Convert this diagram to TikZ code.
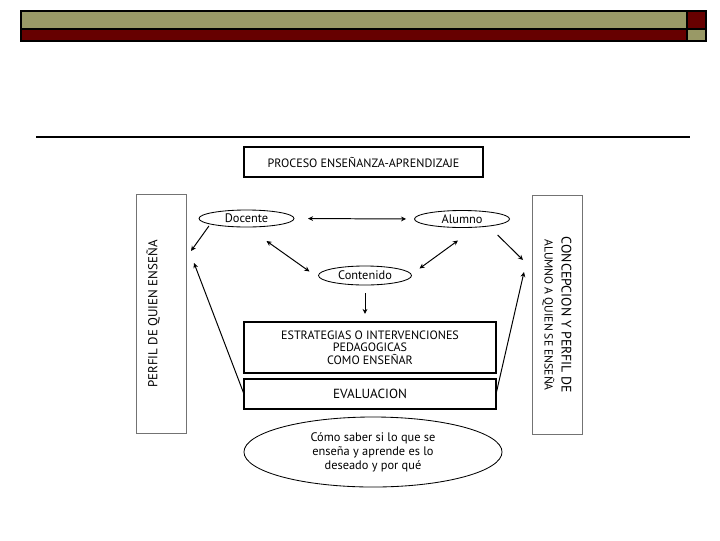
\documentclass[tikz,border=0pt]{standalone}
\usepackage{fontspec}
\setmainfont{PT Sans}
\usetikzlibrary{positioning, arrows.meta, shapes.geometric, calc}
\definecolor{olivebar}{RGB}{153,153,102}
\definecolor{maroonbar}{RGB}{102,0,0}

\begin{document}
\begin{tikzpicture}[
    x=0.025cm, y=-0.025cm,
    band/.style={draw=black, line width=1.2pt},
    titlebox/.style={
      rectangle, draw=black, line width=1.3pt, inner sep=0pt, outer sep=0pt,
      minimum width=5.975cm, minimum height=0.75cm,
      font=\fontsize{8.6}{9}\selectfont,
    },
    actor/.style={
      ellipse, draw=black, line width=0.6pt, inner sep=0pt, outer sep=0pt,
      minimum width=2.375cm, minimum height=0.425cm,
      font=\fontsize{8.8}{9}\selectfont,
    },
    sidebox/.style={
      rectangle, draw=black!55, line width=0.7pt, inner sep=0pt, outer sep=0pt,
      minimum width=1.25cm, minimum height=5.95cm,
    },
    stage/.style={
      rectangle, draw=black, line width=0.8pt, inner sep=0pt, outer sep=0pt,
      minimum width=6.3cm, align=center,
      font=\fontsize{8.6}{8.9}\selectfont,
    },
    sidetext/.style={align=center, inner sep=0pt},
    arrow/.style={-{Stealth[length=3.6pt, width=3.4pt]}, line width=0.7pt},
    both/.style={{Stealth[length=3.6pt, width=3.4pt]}-{Stealth[length=3.6pt, width=3.4pt]}, line width=0.7pt},
]
\useasboundingbox (0,0) rectangle (720,540);

% header band
\fill[olivebar]  (21,11) rectangle (687,29);
\fill[maroonbar] (687,11) rectangle (706,29);
\fill[maroonbar] (21,29) rectangle (687,41);
\fill[olivebar]  (687,29) rectangle (706,41);
\draw[band] (21,11) rectangle (706,41);
\draw[band] (21,29) -- (706,29);
\draw[band] (687,11) -- (687,41);

\draw[line width=1.4pt] (36,137) -- (690,137);

\node[titlebox] (proc) at (363.5,162) {PROCESO ENSEÑANZA-APRENDIZAJE};

\node[actor] (doc) at (246.5,218.5) {Docente};
\node[actor] (alu) at (462,219)     {Alumno};
\node[actor, minimum width=2.325cm, minimum height=0.475cm] (con) at (365,275.5) {Contenido};

\node[sidebox] (perf) at (161.5,314) {};
\node[sidebox] (conc) at (557,315)   {};
\node[sidetext, rotate=90, font=\fontsize{9.2}{10}\selectfont]
    (perftxt) at ([shift={(-8.5,0)}]perf.center) {PERFIL DE QUIEN ENSEÑA};
\node[sidetext, rotate=-90] (conctxt) at (conc.center)
    {\fontsize{9.8}{10.6}\selectfont CONCEPCION Y PERFIL DE\\
     \fontsize{8.3}{10.6}\selectfont ALUMNO A QUIEN SE ENSEÑA};

\node[stage, minimum height=1.275cm] (est) at (370,347.5)
    {ESTRATEGIAS O INTERVENCIONES\\PEDAGOGICAS\\COMO ENSEÑAR};
\node[stage, minimum height=0.75cm, font=\fontsize{9.4}{10}\selectfont]
    (eva) at (370,394) {EVALUACION};

\node[ellipse, draw=black, line width=0.6pt, inner sep=0pt,
      minimum width=6.45cm, minimum height=1.75cm, align=center,
      font=\fontsize{8.8}{10}\selectfont] (saber) at (373,452)
    {Cómo saber si lo que se\\enseña y aprende es lo\\deseado y por qué};

% free ends next to the side boxes
\coordinate (perfA) at (191,251);
\coordinate (perfB) at (194,263);
\coordinate (concA) at (523,260);
\coordinate (concB) at (524,272);

\draw[both, shorten <=0.35cm, shorten >=0.21cm] (doc.east) -- (alu.west);
\draw[both] ([shift={(20,14)}]doc.south) -- ([shift={(-9,-4)}]con.west);
\draw[both] ([shift={(8,-7)}]con.east) -- ([shift={(-4,13)}]alu.south);
\draw[arrow] ([shift={(-4,1.5)}]doc.south west) -- (perfA);
\draw[arrow] ([shift={(2,10)}]alu.south east) -- (concA);
\draw[arrow, shorten <=0.2cm, shorten >=0.2cm] (con.south) -- (con.south |- est.north);

\foreach \a/\b in {eva.west/perfB, eva.east/concB}
    \draw[arrow] (\a) -- (\b);
\end{tikzpicture}
\end{document}
